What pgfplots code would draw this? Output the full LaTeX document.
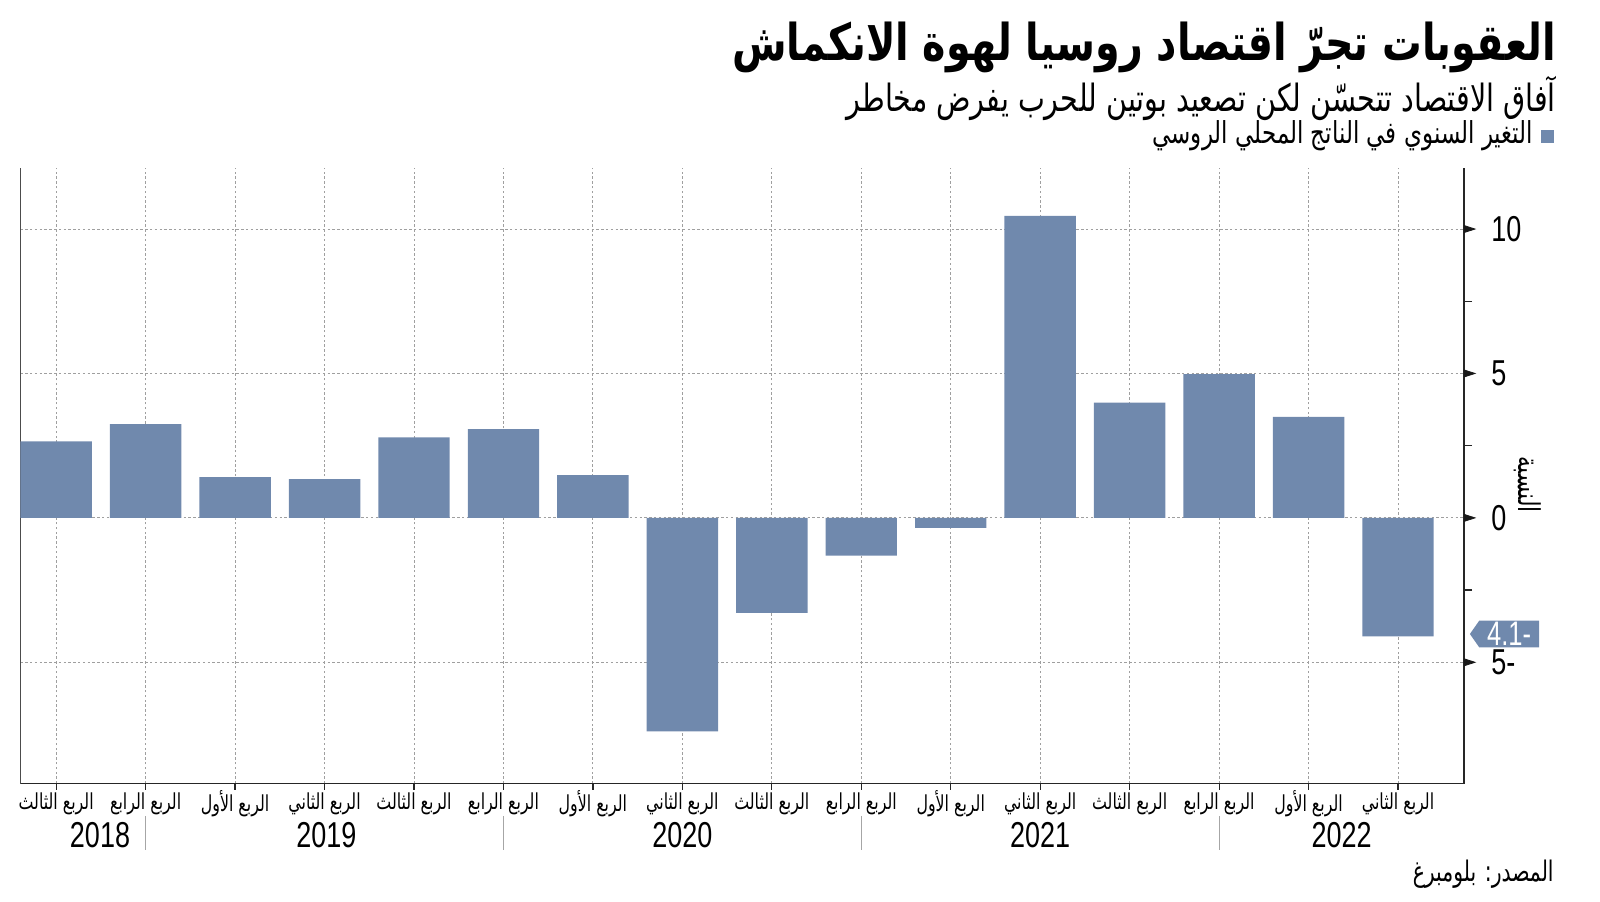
\documentclass[border=0pt]{standalone}
\usepackage{fontspec}
\usepackage{pgfplots}
\pgfplotsset{compat=1.18}
\usetikzlibrary{shapes.symbols}
\TeXXeTstate=1
\newfontfamily\arabicfont[Script=Arabic]{DejaVu Sans}
\newfontfamily\arabicnarrow[Script=Arabic,FakeStretch=0.72]{DejaVu Sans}
\newfontfamily\arabicsub[Script=Arabic,FakeStretch=0.76]{DejaVu Sans}
\newfontfamily\arabictitle[Script=Arabic,FakeStretch=0.78]{DejaVu Sans}
\newfontfamily\numfont[FakeStretch=0.75]{Liberation Sans}
\definecolor{barcol}{RGB}{112,137,173}
\begin{document}
\begin{tikzpicture}
\path[use as bounding box] (0pt,0pt) rectangle (800pt,450.5pt);
\begin{axis}[
  at={(10.2pt,58.7pt)}, anchor=south west, scale only axis,
  width=721.9pt, height=307.6pt,
  xmin=-0.4, xmax=15.74, ymin=-9.2, ymax=12.1,
  axis x line*=bottom, axis y line*=right,
  axis line style={line width=0.8pt, black!85},
  clip=false,
  xtick={0,...,15},
  xticklabels={{\beginR الربع الثالث\endR},{\beginR الربع الرابع\endR},{\beginR الربع الأول\endR},{\beginR الربع الثاني\endR},{\beginR الربع الثالث\endR},{\beginR الربع الرابع\endR},{\beginR الربع الأول\endR},{\beginR الربع الثاني\endR},{\beginR الربع الثالث\endR},{\beginR الربع الرابع\endR},{\beginR الربع الأول\endR},{\beginR الربع الثاني\endR},{\beginR الربع الثالث\endR},{\beginR الربع الرابع\endR},{\beginR الربع الأول\endR},{\beginR الربع الثاني\endR}},
  xticklabel style={font=\arabicnarrow\fontsize{11}{12}\selectfont, anchor=center, yshift=-7pt},
  ytick={-5,0,5,10}, yticklabels={5-,0,5,10},
  yticklabel style={font=\numfont\fontsize{18}{19}\selectfont, anchor=west, xshift=7pt, inner ysep=1pt},
  minor ytick={-2.5,2.5,7.5},
  tick align=outside,
  major tick length=3pt,
  minor tick length=4pt,
  minor tick style={line width=0.6pt, black!85},
  tick style={line width=0.6pt, black!85},
  grid=major,
  major grid style={dash pattern=on 1.2pt off 1.2pt, line width=0.5pt, gray!75},
]
\draw[line width=0.6pt, black!70] (rel axis cs:0,0) -- (rel axis cs:0,1);
\addplot[ybar, bar width=35.7pt, fill=barcol, draw=none] coordinates {
(0,2.65) (1,3.25) (2,1.41) (3,1.34) (4,2.79) (5,3.07) (6,1.48) (7,-7.39)
(8,-3.29) (9,-1.31) (10,-0.35) (11,10.46) (12,3.99) (13,4.98) (14,3.5) (15,-4.1)};
\addplot[only marks, mark=triangle*, mark size=2pt, black!90,
  mark options={xshift=1.8pt, xscale=1.8, rotate=-90}] coordinates {(15.74,-5) (15.74,0) (15.74,5) (15.74,10)};
\node[signal, signal to=west, signal pointer angle=110, fill=barcol, text=white,
  font=\numfont\fontsize{17}{18}\selectfont, inner sep=0.8pt, inner xsep=4pt,
  anchor=west] at (axis cs:15.74,-4.02) [xshift=2.6pt] {4.1-};
\node[font=\numfont\fontsize{18}{19}\selectfont] at (axis cs:0.49,-9.2) [yshift=-26pt] {2018};
\node[font=\numfont\fontsize{18}{19}\selectfont] at (axis cs:3.02,-9.2) [yshift=-26pt] {2019};
\node[font=\numfont\fontsize{18}{19}\selectfont] at (axis cs:7.0,-9.2) [yshift=-26pt] {2020};
\node[font=\numfont\fontsize{18}{19}\selectfont] at (axis cs:11.0,-9.2) [yshift=-26pt] {2021};
\node[font=\numfont\fontsize{18}{19}\selectfont] at (axis cs:14.37,-9.2) [yshift=-26pt] {2022};
\draw[gray!70, line width=0.6pt] ([yshift=-16.3pt]axis cs:1,-9.2) -- ([yshift=-33.2pt]axis cs:1,-9.2);
\draw[gray!70, line width=0.6pt] ([yshift=-16.3pt]axis cs:5,-9.2) -- ([yshift=-33.2pt]axis cs:5,-9.2);
\draw[gray!70, line width=0.6pt] ([yshift=-16.3pt]axis cs:9,-9.2) -- ([yshift=-33.2pt]axis cs:9,-9.2);
\draw[gray!70, line width=0.6pt] ([yshift=-16.3pt]axis cs:13,-9.2) -- ([yshift=-33.2pt]axis cs:13,-9.2);
\end{axis}
\node[anchor=east, inner sep=0pt] at (778.1pt,427pt) {\resizebox{411.7pt}{!}{\arabictitle\bfseries\beginR العقوبات تجرّ اقتصاد روسيا لهوة الانكماش\endR}};
\node[anchor=east, inner sep=0pt] at (778.1pt,401.5pt) {\resizebox{354.6pt}{!}{\arabicsub\beginR آفاق الاقتصاد تتحسّن لكن تصعيد بوتين للحرب يفرض مخاطر\endR}};
\fill[barcol] (770.4pt,379.1pt) rectangle (777pt,385.7pt);
\node[anchor=east, inner sep=0pt] at (766.8pt,382.7pt) {\resizebox{190.3pt}{!}{\arabicsub\beginR التغير السنوي في الناتج المحلي الروسي\endR}};
\node[anchor=east, inner sep=0pt] at (777pt,13.3pt) {\resizebox{70.4pt}{!}{\arabicnarrow\beginR المصدر: بلومبرغ\endR}};
\node[rotate=-90, font=\arabicnarrow\fontsize{15}{16}\selectfont] at (763.8pt,208.2pt) {\beginR النسبة\endR};
\end{tikzpicture}
\end{document}
